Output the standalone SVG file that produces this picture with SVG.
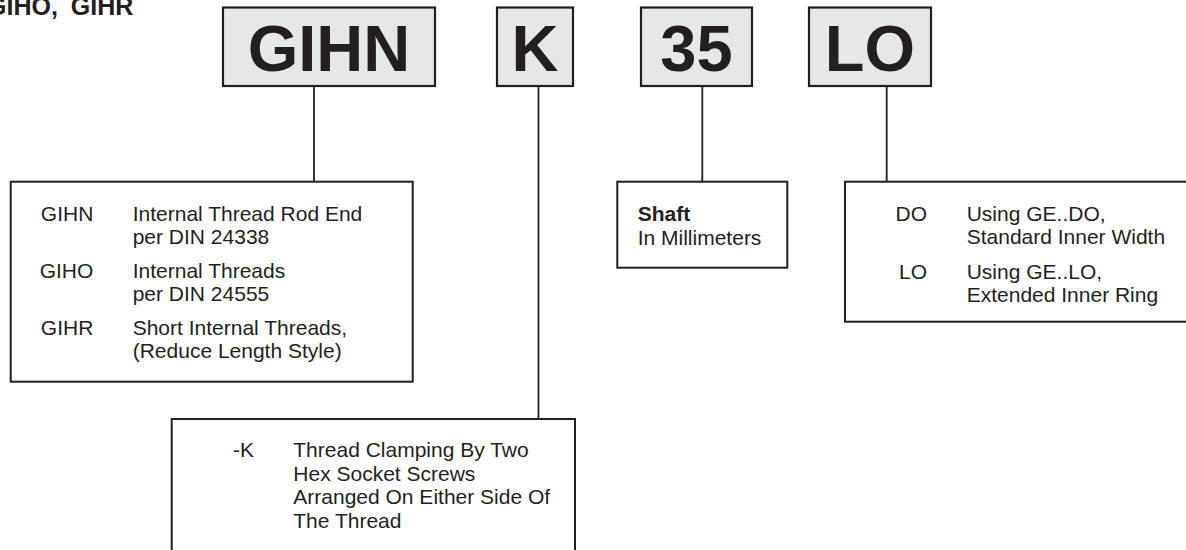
<svg xmlns="http://www.w3.org/2000/svg" width="1186" height="550" viewBox="0 0 1186 550">
<style>
.code{fill:#e6e7e8;stroke:#231f20;stroke-width:2.2}
.box{fill:#ffffff;stroke:#231f20;stroke-width:2}
.big{font-family:"Liberation Sans",Arial,sans-serif;font-weight:bold;font-size:65px;fill:#231f20;text-anchor:middle}
.t{font-family:"Liberation Sans",Arial,sans-serif;font-size:21px;fill:#231f20}
.r{text-anchor:end}
.b{font-weight:bold}
.conn line{stroke:#231f20;stroke-width:1.8}
</style>
<rect width="1186" height="550" fill="#ffffff"/>
<text id="title" x="-13" y="15" word-spacing="6" style="font-family:'Liberation Sans',Arial,sans-serif;font-weight:bold;font-size:25px;fill:#231f20">GIHO, GIHR</text>
<g class="conn" id="connectors">
<line x1="314" y1="86" x2="314" y2="182"/>
<line x1="538.5" y1="86" x2="538.5" y2="419"/>
<line x1="702.3" y1="86" x2="702.3" y2="182"/>
<line x1="886.7" y1="86" x2="886.7" y2="182"/>
</g>
<g id="code-gihn">
<rect class="code" x="223" y="7.5" width="212" height="78.5"/>
<text class="big" x="329" y="71">GIHN</text>
</g>
<g id="code-k">
<rect class="code" x="497" y="7.5" width="76" height="78.5"/>
<text class="big" x="535" y="71">K</text>
</g>
<g id="code-35">
<rect class="code" x="641" y="7.5" width="111" height="78.5"/>
<text class="big" x="696.5" y="71">35</text>
</g>
<g id="code-lo">
<rect class="code" x="809" y="7.5" width="122" height="78.5"/>
<text class="big" x="870" y="71">LO</text>
</g>
<g id="desc-type">
<rect class="box" x="10.7" y="181.7" width="402" height="200"/>
<text class="t r" x="93.3" y="221">GIHN</text>
<text class="t" x="132.7" y="221">Internal Thread Rod End</text>
<text class="t" x="132.7" y="244">per DIN 24338</text>
<text class="t r" x="93.3" y="278">GIHO</text>
<text class="t" x="132.7" y="278">Internal Threads</text>
<text class="t" x="132.7" y="301">per DIN 24555</text>
<text class="t r" x="93.3" y="335">GIHR</text>
<text class="t" x="132.7" y="335">Short Internal Threads,</text>
<text class="t" x="132.7" y="358">(Reduce Length Style)</text>
</g>
<g id="desc-k">
<rect class="box" x="171.7" y="419" width="403.3" height="150"/>
<text class="t r" x="254" y="457">-K</text>
<text class="t" x="293.3" y="457">Thread Clamping By Two</text>
<text class="t" x="293.3" y="480.5">Hex Socket Screws</text>
<text class="t" x="293.3" y="504">Arranged On Either Side Of</text>
<text class="t" x="293.3" y="527.5">The Thread</text>
</g>
<g id="desc-shaft">
<rect class="box" x="617.3" y="181.7" width="170" height="86"/>
<text class="t b" x="637.7" y="221">Shaft</text>
<text class="t" x="637.7" y="245">In Millimeters</text>
</g>
<g id="desc-lo">
<rect class="box" x="845" y="181.7" width="345" height="140"/>
<text class="t r" x="927" y="221">DO</text>
<text class="t" x="966.7" y="221">Using GE..DO,</text>
<text class="t" x="966.7" y="244">Standard Inner Width</text>
<text class="t r" x="927" y="279">LO</text>
<text class="t" x="966.7" y="279">Using GE..LO,</text>
<text class="t" x="966.7" y="302">Extended Inner Ring</text>
</g>
</svg>
